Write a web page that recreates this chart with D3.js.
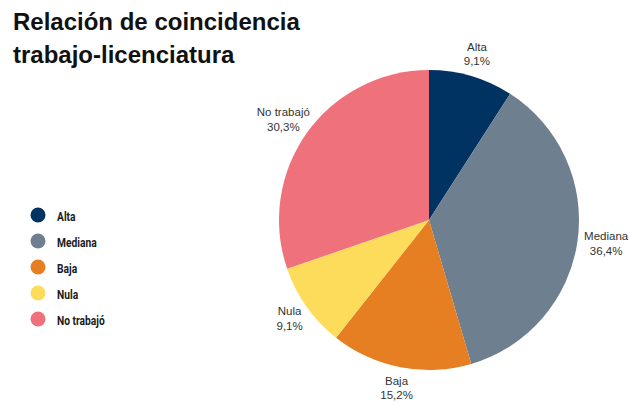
<!DOCTYPE html>
<html>
<head>
<meta charset="utf-8">
<script src="https://cdn.jsdelivr.net/npm/d3@7"></script>
<style>
  body { margin: 0; background: #fff; }
  svg { display: block; }
</style>
</head>
<body>
<div id="chart"></div>
<script>
// datos
let categorias = ["Alta", "Mediana", "Baja", "Nula", "No trabajó"];
let valores = [9.1, 36.4, 15.2, 9.1, 30.3];
let etiquetas = ["9,1%", "36,4%", "15,2%", "9,1%", "30,3%"];
let colores = ["#003262", "#6e7f8f", "#e67e22", "#fddc5c", "#ef717b"];

let width = 630;
let height = 403;
let cx = 429, cy = 220, radius = 150;

let svg = d3.select('#chart').append('svg')
  .attr('width', width)
  .attr('height', height)

let color = d3.scaleOrdinal().domain(categorias).range(colores);

let data = categorias.map(function(c, i) {
  return { cat: c, val: valores[i], lab: etiquetas[i] };
});

// titulo
let titulo = svg.append('text')
  .style('font-family', '"Liberation Sans", Arial, sans-serif')
  .style('font-weight', 'bold')
  .style('font-size', '24px')
  .style('fill', '#111')
titulo.append('tspan').attr('x', 13).attr('y', 30).text('Relación de coincidencia')
titulo.append('tspan').attr('x', 13).attr('y', 63).text('trabajo-licenciatura')

// pie
let pie = d3.pie().sort(null).value(function(d) { return d.val; });
let arc = d3.arc().innerRadius(0).outerRadius(radius);
let arcs = pie(data);

let g = svg.append('g').attr('transform', 'translate(' + cx + ',' + cy + ')');

g.selectAll('.slice')
  .data(arcs)
  .enter()
  .append('path').classed('slice', true)
  .attr('d', arc)
  .attr('fill', function(d) { return color(d.data.cat); })

// etiquetas fuera del pie
let labelR = 159;
let lineH = 14.5;
let lab = g.selectAll('.lab')
  .data(arcs)
  .enter()
  .append('text').classed('lab', true)
  .style('font-family', '"Liberation Sans", Arial, sans-serif')
  .style('font-size', '11.5px')
  .style('fill', '#333')
  .attr('text-anchor', 'middle')

lab.each(function(d) {
  let t = d3.select(this);
  let a = (d.startAngle + d.endAngle) / 2;
  let s = Math.sin(a), c = Math.cos(a);
  t.append('tspan').text(d.data.cat);
  t.append('tspan').text(d.data.lab);
  let w1 = Math.min(Math.max(t.select('tspan').node().getComputedTextLength(), 22), 40);
  let px = s * labelR + (w1 / 2) * s;
  let py = -c * 172 - 4;
  t.selectAll('tspan')
    .attr('x', px)
    .attr('y', function(dd, i) { return py + i * lineH; });
});

// leyenda
let leg = svg.append('g').attr('transform', 'translate(38,215)');
let items = leg.selectAll('.item')
  .data(categorias)
  .enter()
  .append('g').classed('item', true)
  .attr('transform', function(d, i) { return 'translate(0,' + (i * 26) + ')'; })

items.append('circle')
  .attr('r', 7.5)
  .attr('fill', function(d) { return color(d); })

items.append('text')
  .attr('transform', 'translate(19,5.5) scale(0.76,1)')
  .style('font-family', 'Roboto, "Liberation Sans", sans-serif')
  .style('font-size', '13.5px')
  .style('font-weight', 'bold')
  .style('fill', '#1a1a1a')
  .text(function(d) { return d; })
</script>
</body>
</html>
